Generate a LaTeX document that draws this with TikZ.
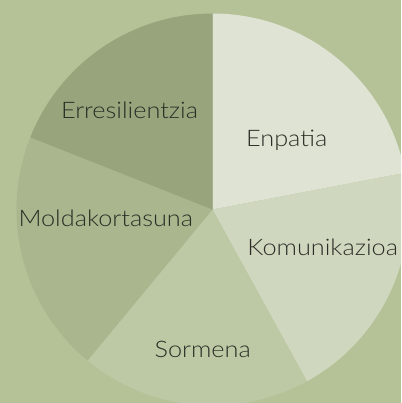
\documentclass[tikz,border=0pt]{standalone}
\usepackage{fontspec}
\setmainfont{Lato}[UprightFont=* Light, FakeStretch=1.11]
\definecolor{bgc}{RGB}{181,194,152}
\definecolor{cEnp}{RGB}{223,227,211}
\definecolor{cKom}{RGB}{208,215,191}
\definecolor{cSor}{RGB}{189,201,165}
\definecolor{cMol}{RGB}{169,182,142}
\definecolor{cErr}{RGB}{151,164,124}
\definecolor{txt}{RGB}{42,46,38}
\tikzset{
  lbl/.style={anchor=base, text=txt, inner sep=0pt, font=\fontsize{22.8}{22.8}\selectfont},
}
\begin{document}
\begin{tikzpicture}[x=1pt,y=1pt]
\fill[bgc] (0,0) rectangle (401,-403);
\useasboundingbox (0,0) rectangle (401,-403);
\clip (0,0) rectangle (401,-403);
\coordinate (C) at (212.5,-209.5);
\def\R{196}
\fill[cEnp] (C) -- ++(90:\R) arc[start angle=90, end angle=10.8, radius=\R] -- cycle;
\fill[cKom] (C) -- ++(10.8:\R) arc[start angle=10.8, end angle=-61.2, radius=\R] -- cycle;
\fill[cSor] (C) -- ++(-61.2:\R) arc[start angle=-61.2, end angle=-129.6, radius=\R] -- cycle;
\fill[cMol] (C) -- ++(-129.6:\R) arc[start angle=-129.6, end angle=-201.6, radius=\R] -- cycle;
\fill[cErr] (C) -- ++(-201.6:\R) arc[start angle=-201.6, end angle=-270, radius=\R] -- cycle;
\node[lbl] (enp) at (286.7,-147) {Enpatia};
\node[lbl] (kom) at (322.7,-255) {Komunikazioa};
\node[lbl] (sor) at (202.7,-357.7) {Sormena};
\node[lbl] (mol) at (105.8,-226.3) {Moldakortasuna};
\node[lbl] (err) at (129.5,-119) {Erresilientzia};
\end{tikzpicture}
\end{document}
